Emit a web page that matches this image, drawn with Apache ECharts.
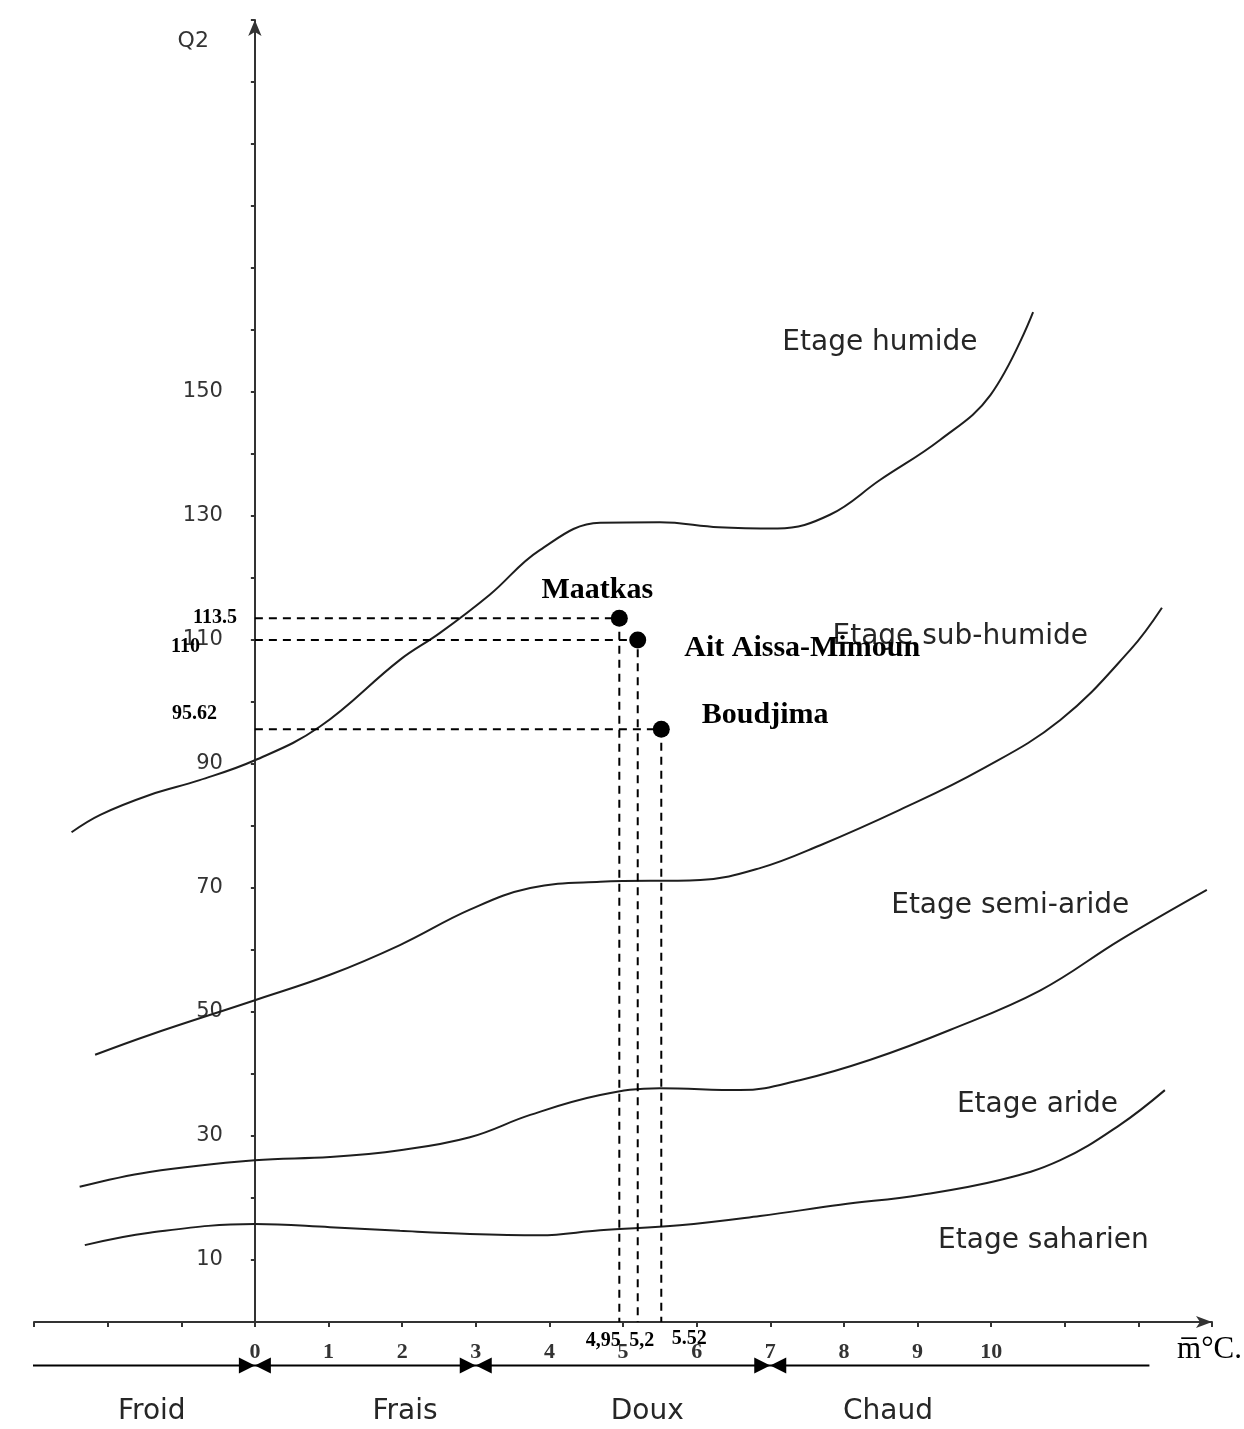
<!DOCTYPE html>
<html>
<head>
<meta charset="utf-8">
<title>Climagramme d'Emberger</title>
<script src="https://cdn.jsdelivr.net/npm/echarts@6.0.0/dist/echarts.min.js"></script>
<style>
  html, body { margin: 0; padding: 0; background: #fff; }
  #chart { width: 1244px; height: 1429px; }
</style>
</head>
<body>
<div id="chart"></div>
<script>
// limits between the bioclimatic stages, [m °C, Q2]
const limitHumid = [[-2.49, 79], [-2.1, 81.8], [-1.43, 85], [-0.75, 87.4], [0, 90.6], [0.88, 96], [1.97, 106.8], [2.51, 111.1], [3.19, 117.3], [3.87, 124.5], [4.69, 128.9], [5.5, 129], [6.3, 128.2], [7.1, 128], [7.81, 130.2], [8.49, 135.8], [9.31, 142.3], [9.99, 149.5], [10.57, 162.9]];
const limitSubHumid = [[-2.17, 43.1], [-1.43, 46.3], [0, 51.9], [1.02, 56], [1.97, 60.8], [2.92, 66.5], [3.74, 70], [4.69, 71], [6.05, 71.3], [6.86, 73.2], [7.68, 76.9], [8.76, 82.6], [9.85, 89], [10.94, 97.1], [11.89, 108.4], [12.32, 115.2]];
const limitSemiArid = [[-2.38, 21.8], [-1.43, 24.2], [0, 26.1], [1.02, 26.6], [1.97, 27.7], [2.92, 29.8], [3.74, 33.4], [4.69, 36.6], [5.5, 37.7], [6.59, 37.4], [7.4, 39], [8.36, 42.3], [9.44, 47.1], [10.67, 53.5], [11.75, 61.6], [12.93, 69.7]];
const limitArid = [[-2.31, 12.4], [-1.43, 14.4], [0, 15.8], [1.02, 15.3], [1.97, 14.7], [2.92, 14.2], [3.87, 14], [4.69, 14.8], [5.77, 15.6], [6.86, 17.1], [7.95, 18.9], [9.04, 20.5], [10.12, 22.9], [10.94, 26.1], [11.75, 31.8], [12.36, 37.4]];

const stageNames = ["Etage humide", "Etage sub-humide", "Etage semi-aride", "Etage aride", "Etage saharien"];
const stageLabelAt = [[8.49, 158], [9.58, 110.6], [10.26, 67.1], [10.63, 35], [10.71, 13.1]];

// stations
const stations = ["Maatkas", "Ait Aissa-Mimoun", "Boudjima"];
const stationM = [4.95, 5.2, 5.52];
const stationQ2 = [113.5, 110, 95.62];
const stationMText = ["4,95", "5,2", "5.52"];
const stationQ2Text = ["113.5", "110", "95.62"];

// axes
const xTickLabels = [0, 1, 2, 3, 4, 5, 6, 7, 8, 9, 10];
const yTickLabels = [10, 30, 50, 70, 90, 110, 130, 150];

// winter variants along the bottom
const zones = ["Froid", "Frais", "Doux", "Chaud"];
const zoneLimits = [0, 3, 7];
const zoneBand = [-3.3, 12.15];
const zoneLabelAt = [-1.4, 2.04, 5.33, 8.6];

const X_MIN = -3;
const X_MAX = 13;
const BAND_Y = -7;
const ZONE_TEXT_Y = -14.5;

const GRID_LEFT = 34;
const GRID_RIGHT = 32;
const plotWidth = 1244 - GRID_LEFT - GRID_RIGHT;
// shift the Q2 axis onto m = 0
const yAxisShift = -plotWidth * (0 - X_MIN) / (X_MAX - X_MIN);

const sans = "DejaVu Sans";
const serif = "Liberation Serif";
const ink = "#1e1e1e";

const stationLabelStyle = [
  { position: "top", offset: [-22, 0] },
  { position: "right", offset: [33, 8] },
  { position: "right", offset: [27, -14] }
];
const q2LabelOffset = [[-13, 0], [-50, 7], [-33, -15]];
const mLabelOffset = [[-16, 4], [4, 4], [28, 2]];

function limitSeries(data) {
  return {
    type: "line",
    data: data,
    smooth: 0.4,
    symbol: "none",
    silent: true,
    lineStyle: { color: ink, width: 2 }
  };
}

function guideSeries(i) {
  return {
    type: "line",
    data: [[0, stationQ2[i]], [stationM[i], stationQ2[i]], [stationM[i], 0]],
    symbol: "none",
    silent: true,
    lineStyle: { color: "#000", width: 2, type: [8, 6] }
  };
}

const chart = echarts.init(document.getElementById("chart"));

chart.setOption({
  animation: false,
  backgroundColor: "#fff",
  grid: {
    left: GRID_LEFT, right: GRID_RIGHT, top: 20, bottom: 107,
    containLabel: false, outerBoundsMode: "none"
  },
  xAxis: {
    type: "value",
    min: X_MIN,
    max: X_MAX,
    interval: 1,
    name: "m\u0305°C.",
    nameLocation: "end",
    nameGap: 30,
    nameTextStyle: {
      fontFamily: serif, fontSize: 31, color: "#000",
      align: "right", verticalAlign: "top", padding: [12, 0, 0, 0]
    },
    splitLine: { show: false },
    axisLine: {
      onZero: false,
      symbol: ["none", "arrow"],
      symbolSize: [9, 16],
      lineStyle: { color: "#333", width: 2 }
    },
    axisTick: { show: true, length: 5, lineStyle: { color: "#333", width: 2 } },
    axisLabel: {
      margin: 19,
      fontFamily: serif, fontWeight: "bold", fontSize: 22, color: "#333",
      formatter: v => xTickLabels.includes(v) ? String(v) : ""
    }
  },
  yAxis: {
    type: "value",
    min: 0,
    max: 210,
    interval: 10,
    offset: yAxisShift,
    name: "Q2",
    nameLocation: "end",
    nameGap: -32,
    nameTextStyle: {
      fontFamily: sans, fontSize: 22, color: "#333",
      align: "right", padding: [0, 46, 0, 0]
    },
    splitLine: { show: false },
    axisLine: {
      onZero: false,
      symbol: ["none", "arrow"],
      symbolSize: [10, 16],
      lineStyle: { color: "#333", width: 2 }
    },
    axisTick: { show: true, length: 4, lineStyle: { color: "#333", width: 2 } },
    axisLabel: {
      margin: 32,
      fontFamily: sans, fontSize: 21, color: "#333",
      formatter: v => yTickLabels.includes(v) ? String(v) : ""
    }
  },
  series: [
    limitSeries(limitHumid),
    limitSeries(limitSubHumid),
    limitSeries(limitSemiArid),
    limitSeries(limitArid),
    guideSeries(0),
    guideSeries(1),
    guideSeries(2),
    {
      // stage names
      type: "scatter",
      symbolSize: 0,
      silent: true,
      clip: false,
      itemStyle: { opacity: 1 },
      data: stageNames.map((n, i) => ({ name: n, value: stageLabelAt[i] })),
      label: {
        show: true, position: "inside", formatter: "{b}",
        fontFamily: sans, fontSize: 28, color: "#262626"
      }
    },
    {
      // value labels next to the axes
      type: "scatter",
      symbolSize: 0,
      silent: true,
      clip: false,
      itemStyle: { opacity: 1 },
      data: stations.flatMap((s, i) => [
        {
          value: [0, stationQ2[i]],
          label: { show: true, position: "left", offset: q2LabelOffset[i], formatter: stationQ2Text[i] }
        },
        {
          value: [stationM[i], 0],
          label: { show: true, position: "bottom", offset: mLabelOffset[i], formatter: stationMText[i] }
        }
      ]),
      label: { fontFamily: serif, fontWeight: "bold", fontSize: 20, color: "#000" }
    },
    {
      // stations
      type: "scatter",
      symbolSize: 17,
      clip: false,
      itemStyle: { color: "#000", opacity: 1 },
      data: stations.map((s, i) => ({
        name: s,
        value: [stationM[i], stationQ2[i]],
        label: stationLabelStyle[i]
      })),
      label: {
        show: true, formatter: "{b}",
        fontFamily: serif, fontWeight: "bold", fontSize: 30, color: "#000"
      }
    },
    {
      // zone band line
      type: "line",
      data: [[zoneBand[0], BAND_Y], [zoneBand[1], BAND_Y]],
      symbol: "none",
      clip: false,
      silent: true,
      lineStyle: { color: "#000", width: 2 }
    },
    {
      // zone limit arrow heads
      type: "scatter",
      clip: false,
      silent: true,
      symbol: "triangle",
      symbolSize: [16, 16],
      itemStyle: { color: "#000", opacity: 1 },
      data: zoneLimits.flatMap(b => [
        { value: [b, BAND_Y], symbolRotate: -90, symbolOffset: [-8, 0] },
        { value: [b, BAND_Y], symbolRotate: 90, symbolOffset: [8, 0] }
      ])
    },
    {
      // zone names
      type: "scatter",
      symbolSize: 0,
      clip: false,
      silent: true,
      itemStyle: { opacity: 1 },
      data: zones.map((z, i) => ({ name: z, value: [zoneLabelAt[i], ZONE_TEXT_Y] })),
      label: {
        show: true, position: "inside", formatter: "{b}",
        fontFamily: sans, fontSize: 28, color: "#262626"
      }
    }
  ]
});
</script>
</body>
</html>
